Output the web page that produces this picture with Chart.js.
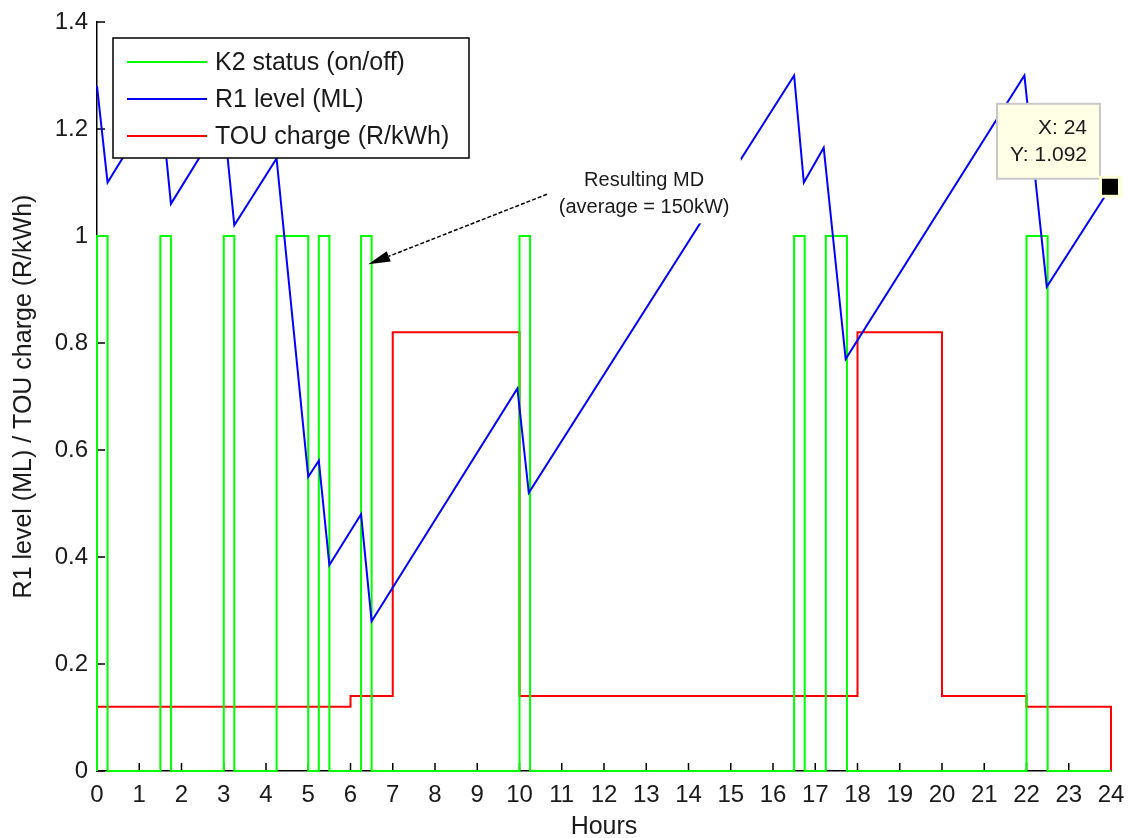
<!DOCTYPE html>
<html>
<head>
<meta charset="utf-8">
<script src="https://cdn.jsdelivr.net/npm/chart.js@4.4.1/dist/chart.umd.min.js"></script>
<style>
html,body{margin:0;padding:0;background:#fff;}
#c{display:block;}
</style>
</head>
<body>
<canvas id="c" width="1128" height="838"></canvas>
<script>
// ---------- data ----------
const hourTicks = ['0','1','2','3','4','5','6','7','8','9','10','11','12','13','14','15','16','17','18','19','20','21','22','23','24'];
const yTickLabels = ['0','0.2','0.4','0.6','0.8','1','1.2','1.4'];

const seriesNames = ['K2 status (on/off)', 'R1 level (ML)', 'TOU charge (R/kWh)'];
const seriesColors = ['#00ff00', '#0000ff', '#ff0000'];

// K2 pump status (step, value holds until next time)
const k2Times  = [0, 0, 0.25, 1.5, 1.75, 3, 3.25, 4.25, 5, 5.25, 5.5, 6.25, 6.5, 10, 10.25, 16.5, 16.75, 17.25, 17.75, 22, 22.5, 24];
const k2Status = [0, 1, 0,    1,   0,    1, 0,    1,    0, 1,    0,   1,    0,   1,  0,     1,    0,     1,     0,     1,  0,    0];

// R1 reservoir level (ML)
const r1Times = [0,    0.25, 1.5,  1.75, 3,    3.25, 4.25,  5,    5.25, 5.5,   6.25, 6.5,  9.95, 10.22, 16.5, 16.73, 17.2,  17.72, 21.95, 22.48, 24];
const r1Level = [1.28, 1.10, 1.26, 1.06, 1.22, 1.02, 1.145, 0.55, 0.58, 0.385, 0.48, 0.28, 0.715, 0.52, 1.30, 1.10,  1.165, 0.77,  1.30,  0.905, 1.092];

// TOU charge (R/kWh), step
const touTimes  = [0,    6,    7,    10,   18,   20,   22,   24,   24];
const touCharge = [0.12, 0.14, 0.82, 0.14, 0.82, 0.14, 0.12, 0.12, 0];

const toXY = (xs, ys) => xs.map((x, i) => ({x: x, y: ys[i]}));

const FONT = "'Liberation Sans', Arial, Helvetica, sans-serif";
const TEXT = '#1a1a1a';
Chart.defaults.font.family = FONT;
Chart.defaults.color = TEXT;

// ---------- plugins ----------
const insideTicks = {
  id: 'insideTicks',
  beforeDatasetsDraw(chart) {
    const {ctx, chartArea: a, scales: {x, y}} = chart;
    ctx.save();
    ctx.strokeStyle = '#000';
    ctx.lineWidth = 1.5;
    ctx.beginPath();
    x.ticks.forEach(t => {
      const px = x.getPixelForValue(t.value);
      ctx.moveTo(px, a.bottom);
      ctx.lineTo(px, a.bottom - 8);
    });
    y.ticks.forEach(t => {
      const py = y.getPixelForValue(t.value);
      ctx.moveTo(a.left, py);
      ctx.lineTo(a.left + 8, py);
    });
    ctx.stroke();
    ctx.restore();
  }
};

const boxLegend = {
  id: 'boxLegend',
  afterDatasetsDraw(chart) {
    const {ctx, chartArea: a} = chart;
    const L = a.left + 16, T = a.top + 16, W = 356, H = 120;
    ctx.save();
    ctx.fillStyle = '#fff';
    ctx.fillRect(L, T, W, H);
    ctx.strokeStyle = '#000';
    ctx.lineWidth = 1.5;
    ctx.strokeRect(L, T, W, H);
    ctx.font = '25px ' + FONT;
    ctx.textBaseline = 'middle';
    ctx.textAlign = 'left';
    chart.data.datasets.forEach((ds, i) => {
      const yy = T + 24 + i * 37;
      ctx.strokeStyle = ds.borderColor;
      ctx.lineWidth = 2;
      ctx.beginPath();
      ctx.moveTo(L + 14, yy);
      ctx.lineTo(L + 94, yy);
      ctx.stroke();
      ctx.fillStyle = TEXT;
      ctx.fillText(ds.label, L + 102, yy + 1);
    });
    ctx.restore();
  }
};

const mdAnnotation = {
  id: 'mdAnnotation',
  afterDatasetsDraw(chart) {
    const {ctx, scales: {x, y}} = chart;
    const X = v => x.getPixelForValue(v), Y = v => y.getPixelForValue(v);
    ctx.save();
    const bx0 = X(10.67), bx1 = X(15.24), by0 = Y(1.145), by1 = Y(1.0235);
    ctx.fillStyle = '#fff';
    ctx.fillRect(bx0, by0, bx1 - bx0, by1 - by0);
    ctx.fillStyle = TEXT;
    ctx.font = '20px ' + FONT;
    ctx.textAlign = 'center';
    ctx.textBaseline = 'middle';
    ctx.fillText('Resulting MD', X(12.95), Y(1.104));
    ctx.fillText('(average = 150kW)', X(12.95), Y(1.054));
    const tx = X(10.65), ty = Y(1.078), hx = X(6.42), hy = Y(0.947);
    const ang = Math.atan2(hy - ty, hx - tx);
    const hl = 22, hw = 5.5;
    const baseX = hx - hl * Math.cos(ang), baseY = hy - hl * Math.sin(ang);
    ctx.strokeStyle = '#000';
    ctx.lineWidth = 1.5;
    ctx.setLineDash([4, 2]);
    ctx.beginPath();
    ctx.moveTo(tx, ty);
    ctx.lineTo(baseX, baseY);
    ctx.stroke();
    ctx.setLineDash([]);
    ctx.fillStyle = '#000';
    ctx.beginPath();
    ctx.moveTo(hx, hy);
    ctx.lineTo(baseX + hw * Math.sin(ang), baseY - hw * Math.cos(ang));
    ctx.lineTo(baseX - hw * Math.sin(ang), baseY + hw * Math.cos(ang));
    ctx.closePath();
    ctx.fill();
    ctx.restore();
  }
};

const dataTip = {
  id: 'dataTip',
  afterDatasetsDraw(chart) {
    const {ctx} = chart;
    const meta = chart.getDatasetMeta(1);
    const pt = meta.data[meta.data.length - 1];
    const px = pt.x, py = pt.y;
    const lastX = r1Times[r1Times.length - 1], lastY = r1Level[r1Level.length - 1];
    ctx.save();
    ctx.fillStyle = '#ffffe6';
    ctx.fillRect(px - 114, py - 83, 103, 75);
    ctx.strokeStyle = '#c8c8c8';
    ctx.lineWidth = 2;
    ctx.strokeRect(px - 114, py - 83, 103, 75);
    ctx.fillStyle = TEXT;
    ctx.font = '21px ' + FONT;
    ctx.textAlign = 'right';
    ctx.textBaseline = 'middle';
    ctx.fillText('X: ' + lastX, px - 24, py - 59);
    ctx.fillText('Y: ' + lastY.toFixed(3), px - 24, py - 32);
    ctx.fillStyle = '#ffffd8';
    ctx.fillRect(px - 12, py - 11, 23, 22);
    ctx.fillStyle = '#000';
    ctx.fillRect(px - 9, py - 8, 16, 16);
    ctx.restore();
  }
};

// ---------- chart ----------
new Chart(document.getElementById('c'), {
  type: 'line',
  data: {
    datasets: [
      {label: seriesNames[0], data: toXY(k2Times, k2Status), borderColor: seriesColors[0], borderWidth: 2, stepped: 'before', pointRadius: 0, fill: false, order: 1, clip: false},
      {label: seriesNames[1], data: toXY(r1Times, r1Level), borderColor: seriesColors[1], borderWidth: 2, pointRadius: 0, fill: false, order: 0, clip: false},
      {label: seriesNames[2], data: toXY(touTimes, touCharge), borderColor: seriesColors[2], borderWidth: 2, stepped: 'before', pointRadius: 0, fill: false, order: 2, clip: false}
    ]
  },
  options: {
    responsive: false,
    animation: false,
    devicePixelRatio: 1,
    layout: {padding: {top: 22, right: 17, left: 0, bottom: 0}},
    plugins: {legend: {display: false}, tooltip: {enabled: false}},
    elements: {line: {tension: 0}, point: {radius: 0}},
    scales: {
      x: {
        type: 'linear', min: 0, max: 24,
        afterFit(s) { s.height = 67; s.paddingLeft = 0; s.paddingRight = 0; },
        border: {display: true, color: '#000', width: 1.5},
        grid: {display: true, drawOnChartArea: false, drawTicks: false},
        ticks: {stepSize: 1, autoSkip: false, maxRotation: 0, minRotation: 0, padding: 10, color: TEXT,
                font: {size: 24}, callback: (v, i) => hourTicks[i]},
        title: {display: true, text: 'Hours', color: TEXT, font: {size: 25, lineHeight: 1}, padding: {top: 0, bottom: -2}}
      },
      y: {
        type: 'linear', min: 0, max: 1.4,
        afterFit(s) { s.width = 97; s.paddingTop = 0; s.paddingBottom = 0; },
        border: {display: true, color: '#000', width: 1.5},
        grid: {display: true, drawOnChartArea: false, drawTicks: false},
        ticks: {stepSize: 0.2, autoSkip: false, padding: 9, color: TEXT,
                font: {size: 24}, callback: (v, i) => yTickLabels[i]},
        title: {display: true, text: 'R1 level (ML) / TOU charge (R/kWh)', color: TEXT, font: {size: 25, lineHeight: 1}, padding: {top: 12, bottom: 0}}
      }
    }
  },
  plugins: [insideTicks, boxLegend, mdAnnotation, dataTip]
});
</script>
</body>
</html>
